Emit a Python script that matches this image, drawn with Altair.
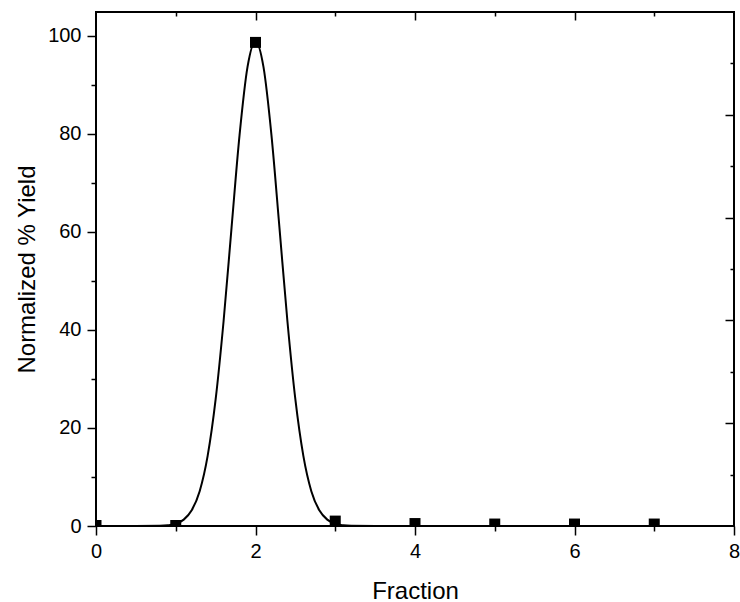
import altair as alt
import pandas as pd

# Measured data points
fraction = [0, 1, 2, 3, 4, 5, 6, 7]
norm_yield = [0.1, 0.1, 98.6, 1.0, 0.5, 0.4, 0.4, 0.4]

# Fitted curve
curve_x = [0.0, 0.5, 0.8, 0.9, 1.0, 1.1, 1.2, 1.3, 1.4, 1.5, 1.6, 1.7, 1.8, 1.9, 2.0,
           2.1, 2.2, 2.3, 2.4, 2.5, 2.6, 2.7, 2.8, 2.9, 3.0, 3.1, 3.2, 3.5, 7.0]
curve_y = [0.0, 0.0, 0.04, 0.15, 0.46, 1.3, 3.2, 7.1, 14.3, 25.8, 41.8, 60.9, 79.7, 93.6, 98.8,
           93.6, 79.7, 60.9, 41.8, 25.8, 14.3, 7.1, 3.2, 1.3, 0.46, 0.15, 0.04, 0.0, 0.0]

# Axis tick values
x_ticks = [0, 1, 2, 3, 4, 5, 6, 7, 8]
y_ticks = [0, 10, 20, 30, 40, 50, 60, 70, 80, 90, 100]
right_ticks = [10, 20, 30, 40, 50, 60, 70, 80, 90]

W, H = 638, 514
FONT = "Liberation Sans"

pts = pd.DataFrame({"Fraction": fraction, "Yield": norm_yield})
curve = pd.DataFrame({"Fraction": curve_x, "Yield": curve_y})
dummy = pd.DataFrame({"tx": [0], "ty": [0]})

x_scale = alt.Scale(domain=[0, 8], nice=False, zero=False)
y_scale = alt.Scale(domain=[0, 104.8], nice=False, zero=False)

x_axis = alt.Axis(
    values=x_ticks, title="Fraction", grid=False, domain=False, format="d",
    labelExpr="datum.value % 2 === 0 ? datum.label : ''", labelFlush=False,
    tickSize={"condition": {"test": "datum.value % 2 === 0", "value": 9}, "value": 5},
    labelPadding=6, titlePadding=18,
)
y_axis = alt.Axis(
    values=y_ticks, title="Normalized % Yield", grid=False, domain=False, format="d",
    labelExpr="datum.value % 20 === 0 ? datum.label : ''", labelFlush=False,
    tickSize={"condition": {"test": "datum.value % 20 === 0", "value": 9}, "value": 5},
    labelPadding=6, titlePadding=8,
)

line = alt.Chart(curve).mark_line(color="black", strokeWidth=2, clip=True, interpolate="monotone").encode(
    x=alt.X("Fraction:Q", scale=x_scale, axis=x_axis),
    y=alt.Y("Yield:Q", scale=y_scale, axis=y_axis),
)
points = alt.Chart(pts).mark_point(shape="square", filled=True, color="black", opacity=1,
                                   size=121, clip=True).encode(
    x=alt.X("Fraction:Q", scale=x_scale),
    y=alt.Y("Yield:Q", scale=y_scale),
)
main = alt.layer(line, points)

# Inward ticks on the top and right sides of the frame
frame_ticks = alt.Chart(dummy).mark_point(opacity=0).encode(
    x=alt.X("tx:Q", scale=alt.Scale(domain=[0, 8], nice=False, zero=False),
            axis=alt.Axis(orient="bottom", offset=-H, values=x_ticks[1:-1], labels=False,
                          domain=False, grid=False, title=None,
                          tickSize={"condition": {"test": "datum.value % 2 === 0", "value": 8}, "value": 4})),
    y=alt.Y("ty:Q", scale=alt.Scale(domain=[0, 100], nice=False, zero=False),
            axis=alt.Axis(orient="left", offset=-W, values=right_ticks, labels=False,
                          domain=False, grid=False, title=None,
                          tickSize={"condition": {"test": "datum.value % 20 === 0", "value": 9}, "value": 4})),
)

chart = alt.layer(main, frame_ticks).resolve_scale(x="independent", y="independent").properties(
    width=W, height=H,
    autosize=alt.AutoSizeParams(type="none"),
    padding={"left": 96, "top": 12, "right": 6, "bottom": 76},
).configure(
    background="white",
).configure_view(
    stroke="black", strokeWidth=2,
).configure_axis(
    labelFont=FONT, titleFont=FONT, labelFontSize=20, titleFontSize=24,
    labelColor="black", titleColor="black", tickColor="black", tickWidth=1.5,
    titleFontWeight="normal",
)

chart.save("out.html", embed_options={"renderer": "svg", "actions": False})
